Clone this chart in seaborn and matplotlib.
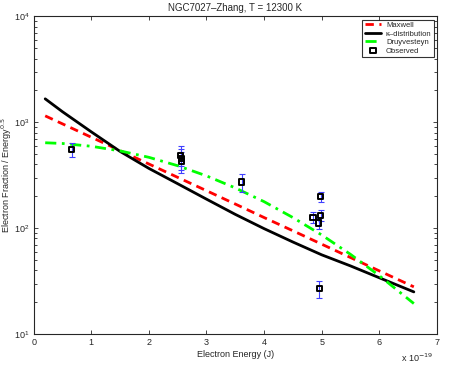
"""NGC7027 electron energy distribution: model curves against observed points."""

import matplotlib
matplotlib.use("Agg")
import matplotlib.pyplot as plt
import matplotlib.ticker as mticker
import pandas as pd
import seaborn as sns

# energies in units of 1e-19 J
energy = [0.2, 0.5, 1.0, 1.5, 2.0, 2.5, 3.0, 3.5, 4.0, 4.5, 5.0, 5.5, 6.0, 6.6]
maxwell = [1151, 967, 723, 541, 404, 302, 226, 169, 126, 94.5, 70.6, 52.8, 39.5, 27.9]
kappa = [1667, 1259, 813, 531, 367, 263, 188, 135, 99, 74, 56, 44, 34, 25]
druyvesteyn = [641, 631, 594, 537, 467, 389, 312, 240, 178, 126, 86.3, 56.6, 35.6, 19.4]

obs_energy = [0.66, 2.55, 2.56, 2.56, 3.61, 4.98, 4.85, 4.98, 4.95, 4.96]
obs_value = [551, 490, 455, 425, 273, 199, 126, 132, 112, 26.7]
obs_error = [85, 105, 100, 95, 52, 22, 15, 15, 13, 5]

curves = pd.DataFrame({
    "energy": energy,
    "Maxwell": maxwell,
    "kappa": kappa,
    "Druyvesteyn": druyvesteyn,
})

sns.set_style("ticks")
plt.rcParams["font.family"] = ["Liberation Sans", "DejaVu Sans"]
plt.rcParams["xtick.direction"] = "in"
plt.rcParams["ytick.direction"] = "in"

fig = plt.figure(figsize=(4.49, 3.66), dpi=100)
ax = fig.add_axes([0.075, 0.0874, 0.898, 0.8676])

sns.lineplot(data=curves, x="energy", y="Maxwell", ax=ax, color="#ff0000",
             linestyle=(0, (3, 2)), linewidth=2, label="Maxwell")
sns.lineplot(data=curves, x="energy", y="kappa", ax=ax, color="black",
             linewidth=2, label="\u03ba\u2013distribution")
sns.lineplot(data=curves, x="energy", y="Druyvesteyn", ax=ax, color="#00ff00",
             linestyle=(0, (4, 2, 1, 2)), linewidth=2, label="Druyvesteyn")
ax.errorbar(obs_energy, obs_value, yerr=obs_error, fmt="none", ecolor="#4040ff",
            elinewidth=0.8, capsize=2.5, capthick=0.8, zorder=3)
sns.scatterplot(x=obs_energy, y=obs_value, ax=ax, marker="s", s=14,
                facecolor="none", edgecolor="black", linewidth=1.4,
                label="Observed", zorder=4)

ax.set_yscale("log")
ax.set_xlim(0, 7)
ax.set_ylim(10, 1e4)
ax.set_xticks(range(8))
ax.yaxis.set_major_locator(mticker.LogLocator(base=10, numticks=5))
ax.yaxis.set_minor_locator(mticker.LogLocator(base=10, subs=range(2, 10), numticks=20))
ax.yaxis.set_minor_formatter(mticker.NullFormatter())
ax.tick_params(which="both", top=True, right=True, labelsize=6.5, length=3,
               width=0.6, pad=3)
ax.tick_params(which="minor", length=2)
for spine in ax.spines.values():
    spine.set_visible(True)
    spine.set_linewidth(0.8)

ax.set_title("NGC7027\u2013Zhang, T = 12300 K", fontsize=7, pad=4)
ax.set_xlabel("Electron Energy (J)", fontsize=6.5, labelpad=2)
ax.set_ylabel("Electron Fraction / Energy$^{0.5}$", fontsize=6.5, labelpad=0)
ax.text(0.99, -0.055, "x 10$^{-19}$", transform=ax.transAxes, fontsize=6.5,
        ha="right", va="top")

leg = ax.legend(loc="upper right", fontsize=5.5, frameon=True, fancybox=False,
                edgecolor="black", handlelength=2.2, borderpad=0.3,
                labelspacing=0.15, handletextpad=0.6, borderaxespad=0.4)
leg.get_frame().set_linewidth(0.8)

fig.savefig("out.png", dpi=100)
plt.close(fig)
